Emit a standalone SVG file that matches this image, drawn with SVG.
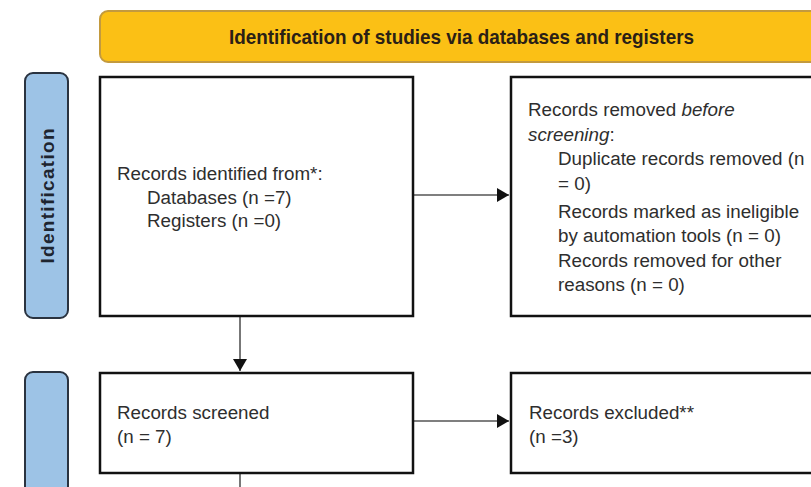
<svg xmlns="http://www.w3.org/2000/svg" width="811" height="487" viewBox="0 0 811 487">
  <style>
    .box { fill: #ffffff; stroke: #111111; stroke-width: 2.5; }
    .phase { fill: #9dc3e6; stroke: #2a3340; stroke-width: 2; }
    .banner { fill: #fbc015; stroke: #c39a3e; stroke-width: 2; }
    .txt { font-family: "Liberation Sans", Arial, sans-serif; font-size: 18.8px; fill: #2e2e2e; }
    .title { font-family: "Liberation Sans", Arial, sans-serif; font-size: 21px; font-weight: bold; fill: #2a2016; }
    .phase-txt { font-family: "Liberation Sans", Arial, sans-serif; font-size: 19px; font-weight: bold; fill: #1e2530; }
    .link { fill: none; stroke: #555555; stroke-width: 1.6; }
  </style>
  <defs>
    <marker id="arrow" viewBox="0 0 12 14" refX="12" refY="7" markerWidth="12" markerHeight="14" markerUnits="userSpaceOnUse" orient="auto">
      <path d="M0,0 L12,7 L0,14 Z" fill="#111111"/>
    </marker>
  </defs>

  <rect width="811" height="487" fill="#ffffff"/>

  <!-- top banner -->
  <g id="banner">
    <rect class="banner" x="100" y="11" width="740" height="51" rx="8"/>
    <text class="title" x="461.5" y="44" text-anchor="middle" textLength="465" lengthAdjust="spacingAndGlyphs">Identification of studies via databases and registers</text>
  </g>

  <!-- phase labels -->
  <g id="phase-identification">
    <rect class="phase" x="25" y="73" width="43" height="245" rx="8"/>
    <text class="phase-txt" transform="translate(53.5,196) rotate(-90)" text-anchor="middle" textLength="135" lengthAdjust="spacing">Identification</text>
  </g>
  <g id="phase-screening">
    <rect class="phase" x="25" y="372" width="43" height="140" rx="8"/>
  </g>

  <!-- connectors -->
  <g id="connectors">
    <line class="link" x1="413" y1="195" x2="509" y2="195" marker-end="url(#arrow)"/>
    <line class="link" x1="240" y1="316" x2="240" y2="371" marker-end="url(#arrow)"/>
    <line class="link" x1="413" y1="421" x2="509" y2="421" marker-end="url(#arrow)"/>
    <line class="link" x1="240" y1="474" x2="240" y2="490"/>
  </g>

  <!-- records identified -->
  <g id="node-identified">
    <rect class="box" x="100" y="77" width="313" height="239"/>
    <text class="txt" x="117" y="180">Records identified from*:</text>
    <text class="txt" x="147" y="203.5">Databases (n =7)</text>
    <text class="txt" x="147" y="227">Registers (n =0)</text>
  </g>

  <!-- records removed before screening -->
  <g id="node-removed">
    <rect class="box" x="511" y="77" width="330" height="239"/>
    <text class="txt" x="528" y="116">Records removed <tspan font-style="italic">before</tspan></text>
    <text class="txt" x="528" y="140.5"><tspan font-style="italic">screening</tspan>:</text>
    <text class="txt" x="558" y="165">Duplicate records removed (n</text>
    <text class="txt" x="558" y="190">= 0)</text>
    <text class="txt" x="558" y="217.5">Records marked as ineligible</text>
    <text class="txt" x="558" y="242">by automation tools (n = 0)</text>
    <text class="txt" x="558" y="266.5">Records removed for other</text>
    <text class="txt" x="558" y="291">reasons (n = 0)</text>
  </g>

  <!-- records screened -->
  <g id="node-screened">
    <rect class="box" x="100" y="373" width="313" height="100"/>
    <text class="txt" x="117" y="419">Records screened</text>
    <text class="txt" x="117" y="443">(n = 7)</text>
  </g>

  <!-- records excluded -->
  <g id="node-excluded">
    <rect class="box" x="511" y="373" width="330" height="100"/>
    <text class="txt" x="529" y="419">Records excluded**</text>
    <text class="txt" x="529" y="443">(n =3)</text>
  </g>
</svg>
